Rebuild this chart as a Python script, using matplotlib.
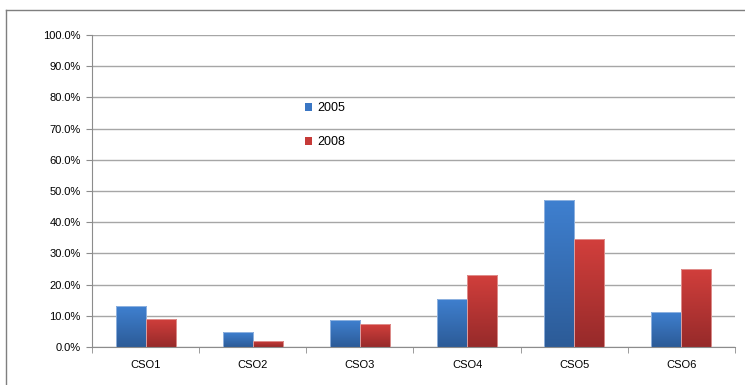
import numpy as np
import matplotlib
matplotlib.use('Agg')
from matplotlib import pyplot as plt
from matplotlib.colors import LinearSegmentedColormap
from matplotlib.patches import Patch
from matplotlib.lines import Line2D

categories = ['CSO1', 'CSO2', 'CSO3', 'CSO4', 'CSO5', 'CSO6']
vals_2005 = [13.1, 4.8, 8.6, 15.4, 47.2, 11.3]
vals_2008 = [9.0, 2.0, 7.3, 23.1, 34.5, 25.0]
series_labels = ['2005', '2008']

plt.rcParams['font.family'] = ['Liberation Sans', 'DejaVu Sans']

fig = plt.figure(figsize=(7.45, 3.85), dpi=100)
ax = fig.add_axes([92 / 745, 38 / 385, 643 / 745, 312 / 385])

x = np.arange(len(categories))
w = 0.28
blue_cm = LinearSegmentedColormap.from_list('b', ['#2c5b97', '#3f80d0'])
red_cm = LinearSegmentedColormap.from_list('r', ['#962a2a', '#d23f3c'])
grad = np.linspace(0, 1, 256).reshape(-1, 1)

def gradient_bars(xs, vals, cmap, edge):
    bars = ax.bar(xs, vals, w, color='none', edgecolor=edge, linewidth=0.6, zorder=3)
    for b in bars:
        x0, y0 = b.get_x(), b.get_y()
        im = ax.imshow(grad, cmap=cmap, origin='lower', aspect='auto',
                       extent=[x0, x0 + b.get_width(), y0, y0 + b.get_height()],
                       zorder=2)
        im.set_clip_path(b)
    return bars

gradient_bars(x - w / 2, vals_2005, blue_cm, '#9dbbe3')
gradient_bars(x + w / 2, vals_2008, red_cm, '#e39c9a')

ax.set_xlim(-0.5, len(categories) - 0.5)
ax.set_ylim(0, 100)
ax.set_yticks(np.arange(0, 101, 10))
ax.set_yticklabels(['%.1f%%' % v for v in np.arange(0, 101, 10)])
ax.set_xticks(x)
ax.set_xticklabels(categories)
ax.set_xticks(np.arange(-0.5, len(categories), 1), minor=True)
ax.tick_params(axis='x', which='major', length=0, labelsize=8, pad=9)
ax.tick_params(axis='x', which='minor', length=4, color='#8c8c8c', direction='out')
ax.tick_params(axis='y', length=4, color='#8c8c8c', labelsize=8, pad=4)
ax.yaxis.grid(True, color='#a6a6a6', linewidth=1, zorder=0)
ax.set_axisbelow(True)
for s in ['top', 'right']:
    ax.spines[s].set_visible(False)
ax.spines['left'].set_color('#8c8c8c')
ax.spines['bottom'].set_color('#8c8c8c')

handles = [Patch(facecolor='#3a76c4', edgecolor='none'),
           Patch(facecolor='#c63a38', edgecolor='none')]
ax.legend(handles, series_labels, loc='upper left', bbox_to_anchor=(0.3145, 0.82),
          frameon=False, fontsize=9, handlelength=0.55, handleheight=0.55,
          handletextpad=0.4, labelspacing=1.75)

# chart outer frame
fig.add_artist(Line2D([6 / 745, 6 / 745], [0, 1 - 10 / 385], color='#7f7f7f',
                      linewidth=1, transform=fig.transFigure))
fig.add_artist(Line2D([6 / 745, 1], [1 - 10 / 385, 1 - 10 / 385], color='#7f7f7f',
                      linewidth=1, transform=fig.transFigure))

fig.savefig('out.png', dpi=100)
